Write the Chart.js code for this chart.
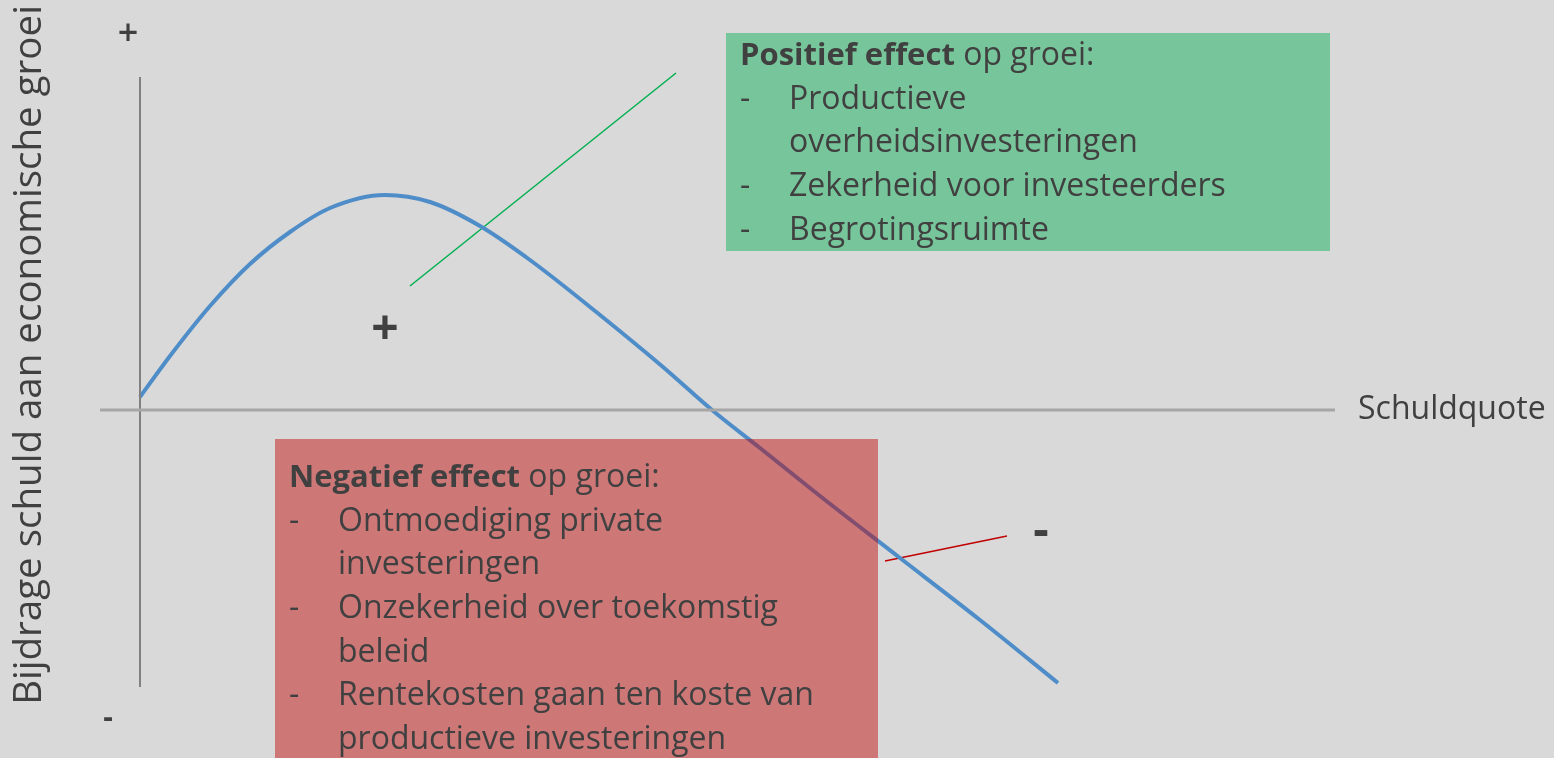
<!DOCTYPE html>
<html>
<head>
<meta charset="utf-8">
<script src="https://cdn.jsdelivr.net/npm/chart.js@4"></script>
<style>
html,body{margin:0;padding:0;background:#d9d9d9;overflow:hidden;}
#wrap{position:absolute;left:0;top:0;width:1554px;height:758px;}
</style>
</head>
<body>
<div id="wrap"><canvas id="c" width="1554" height="758"></canvas></div>
<script>
// ---- data (conceptual units: x = schuldquote, y = bijdrage aan groei) ----
const curveX = [0, 3, 7, 11, 15, 19, 24.5, 29, 34, 39, 46, 52.3, 57.2, 62, 68, 76, 84, 91.8];
const curveY = [1.3, 5.4, 10.4, 14.6, 17.8, 20.2, 21.5, 20.8, 18.4, 15, 9.5, 4.3, 0, -3.8, -8.6, -14.8, -21, -27.3];

const yAxisLineX = [0, 0];
const yAxisLineY = [33.3, -27.7];
const xAxisLineX = [-4, 119.5];
const xAxisLineY = [0, 0];

const greenLeaderX = [27, 53.6];
const greenLeaderY = [12.4, 33.7];
const redLeaderX = [74.5, 86.7];
const redLeaderY = [-15.1, -12.6];

// boxes: [xMin, xMax, yMax, yMin]
const greenBox = [58.6, 119, 37.7, 15.9];
const redBox = [13.5, 73.8, -2.9, -36];

const greenTitleBold = "Positief effect";
const greenTitleRest = " op groei:";
const greenItems = ["Productieve", "overheidsinvesteringen", "Zekerheid voor investeerders", "Begrotingsruimte"];
const greenBullets = [true, false, true, true];

const redTitleBold = "Negatief effect";
const redTitleRest = " op groei:";
const redItems = ["Ontmoediging private", "investeringen", "Onzekerheid over toekomstig", "beleid", "Rentekosten gaan ten koste van", "productieve investeringen"];
const redBullets = [true, false, true, false, true, false];

const xAxisTitle = "Schuldquote";
const yAxisTitle = "Bijdrage schuld aan economische groei";
const signs = [
  {t: "+", x: -1.2, y: 37.5, big: false},
  {t: "-", x: -3.2, y: -30.8, big: false},
  {t: "+", x: 24.5, y: 8, big: true},
  {t: "-", x: 90.1, y: -12.2, big: true}
];

const pts = (xs, ys) => xs.map((x, i) => ({x: x, y: ys[i]}));

const FONT = "'Open Sans', Lato, sans-serif";
const TXT = "#404040";

const overlay = {
  id: 'overlay',
  afterDatasetsDraw(chart) {
    const ctx = chart.ctx;
    const xs = chart.scales.x, ys = chart.scales.y;
    const px = v => xs.getPixelForValue(v);
    const py = v => ys.getPixelForValue(v);
    ctx.save();
    function box(b, col) {
      ctx.fillStyle = col;
      ctx.fillRect(px(b[0]), py(b[2]), px(b[1]) - px(b[0]), py(b[3]) - py(b[2]));
    }
    box(greenBox, 'rgba(0,176,80,0.45)');
    box(redBox, 'rgba(192,0,0,0.45)');

    function boxText(b, top, bold, rest, items, bullets) {
      const left = px(b[0]) + 14;
      const indent = left + 49;
      let y = py(b[2]) + top;
      const lh = 43.6;
      ctx.textBaseline = 'middle';
      ctx.textAlign = 'left';
      ctx.fillStyle = TXT;
      ctx.font = "bold 31px " + FONT;
      ctx.fillText(bold, left, y);
      const w = ctx.measureText(bold).width;
      ctx.font = "32px " + FONT;
      ctx.fillText(rest, left + w, y);
      items.forEach((it, i) => {
        y += lh;
        if (bullets[i]) ctx.fillText("-", left, y);
        ctx.fillText(it, indent, y);
      });
    }
    boxText(greenBox, 23, greenTitleBold, greenTitleRest, greenItems, greenBullets);
    boxText(redBox, 39, redTitleBold, redTitleRest, redItems, redBullets);

    ctx.fillStyle = TXT;
    ctx.font = "32px " + FONT;
    ctx.textAlign = 'left';
    ctx.textBaseline = 'middle';
    ctx.fillText(xAxisTitle, px(xAxisLineX[1]) + 23, py(0));
    ctx.save();
    ctx.translate(30, py((yAxisLineY[0] + yAxisLineY[1]) / 2) - 27);
    ctx.rotate(-Math.PI / 2);
    ctx.textAlign = 'center';
    ctx.font = "38.5px " + FONT;
    ctx.fillText(yAxisTitle, 0, 0);
    ctx.restore();

    signs.forEach(s => {
      ctx.textAlign = 'center';
      ctx.textBaseline = 'middle';
      ctx.font = s.big ? "bold 48px " + FONT : (s.t === "+" ? "600 36px " : "bold 30px ") + FONT;
      ctx.fillText(s.t, px(s.x), py(s.y));
    });
    ctx.restore();
  }
};

new Chart(document.getElementById('c'), {
  type: 'scatter',
  data: {
    datasets: [
      {data: pts(xAxisLineX, xAxisLineY), showLine: true, borderColor: '#a6a6a6', borderWidth: 3, pointRadius: 0},
      {data: pts(yAxisLineX, yAxisLineY), showLine: true, borderColor: '#808080', borderWidth: 2, pointRadius: 0},
      {data: pts(curveX, curveY), showLine: true, borderColor: '#4f8dc9', borderWidth: 4, pointRadius: 0, cubicInterpolationMode: 'monotone'},
      {data: pts(greenLeaderX, greenLeaderY), showLine: true, borderColor: '#00b050', borderWidth: 1.5, pointRadius: 0},
      {data: pts(redLeaderX, redLeaderY), showLine: true, borderColor: '#c00000', borderWidth: 1.5, pointRadius: 0}
    ]
  },
  options: {
    responsive: false,
    animation: false,
    events: [],
    layout: {padding: 0},
    plugins: {legend: {display: false}, tooltip: {enabled: false}},
    scales: {
      x: {type: 'linear', display: false, min: -14, max: 141.4},
      y: {type: 'linear', display: false, min: -34.8, max: 41}
    }
  },
  plugins: [overlay]
});
</script>
</body>
</html>
